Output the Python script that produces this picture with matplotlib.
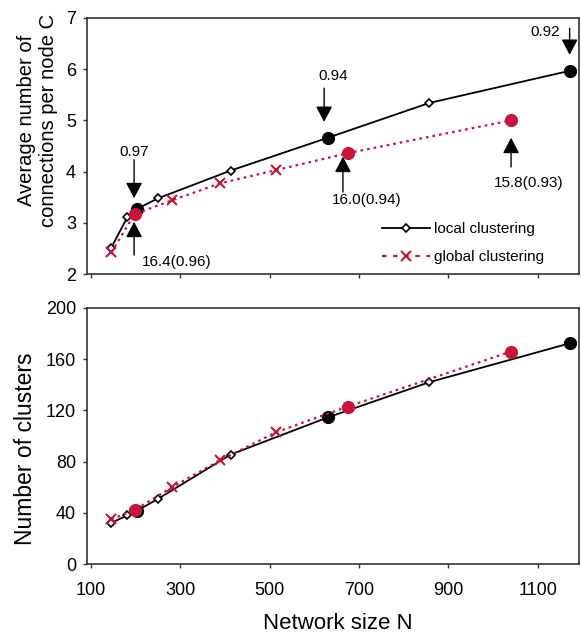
"""
clustering vs network size: connections per node (top) and number of clusters (bottom)
"""
import matplotlib
matplotlib.use("Agg")
import matplotlib.pyplot as plt
from matplotlib.lines import Line2D

plt.rcParams["font.family"] = "sans-serif"
plt.rcParams["font.sans-serif"] = ["Liberation Sans", "DejaVu Sans"]


################## data

# local clustering
n_local = [145, 182, 203, 251, 413, 630, 857, 1172]
c_local = [2.50, 3.11, 3.27, 3.48, 4.02, 4.66, 5.34, 5.97]
k_local = [32, 38, 41.5, 51, 85.5, 114.5, 142, 172.5]
big_local = [2, 5, 7]          # points drawn as filled circles

# global clustering
n_global = [146, 198, 282, 389, 515, 675, 1040]
c_global = [2.42, 3.17, 3.44, 3.77, 4.03, 4.36, 5.00]
k_global = [35, 42, 60, 81, 103, 123, 166]
big_global = [1, 5, 6]

x_ticks = [100, 300, 500, 700, 900, 1100]
c_ticks = [2, 3, 4, 5, 6, 7]
k_ticks = [0, 40, 80, 120, 160, 200]


RED = "#c8143a"
FRAME = "#333333"
dotted = (0, (1.2, 1.8))


fig = plt.figure(figsize=(5.81, 6.35), dpi=100)
ax1 = fig.add_axes([0.150, 0.5685, 0.8466, 0.4032])
ax2 = fig.add_axes([0.150, 0.1118, 0.8466, 0.4032])


def draw(ax, yl, yg):
    ax.plot(n_local, yl, color="black", lw=1.3, zorder=2)
    small = [i for i in range(len(n_local)) if i not in big_local]
    ax.plot([n_local[i] for i in small], [yl[i] for i in small], ls="none",
        marker="D", ms=4.5, mfc="white", mec="black", mew=1.2, zorder=3)
    ax.plot([n_local[i] for i in big_local], [yl[i] for i in big_local],
        ls="none", marker="o", ms=8.5, color="black", zorder=3)

    ax.plot(n_global, yg, color=RED, lw=1.6, ls=dotted, zorder=4)
    small = [i for i in range(len(n_global)) if i not in big_global]
    ax.plot([n_global[i] for i in small], [yg[i] for i in small], ls="none",
        marker="x", ms=6.5, mew=1.5, color=RED, zorder=5)
    ax.plot([n_global[i] for i in big_global], [yg[i] for i in big_global],
        ls="none", marker="o", ms=8.5, color=RED, zorder=5)

    ax.set_xlim(92, 1192)
    ax.set_xticks(x_ticks)
    for sp in ax.spines.values():
        sp.set_color(FRAME)
        sp.set_linewidth(1.2)
    ax.tick_params(direction="out", length=3, width=1, color=FRAME,
        labelsize=13)
    ax.tick_params(axis="y", pad=5)
    ax.tick_params(axis="x", pad=10)


draw(ax1, c_local, c_global)
draw(ax2, k_local, k_global)

ax1.set_ylim(2, 7)
ax1.set_yticks(c_ticks)
ax1.tick_params(axis="x", labelbottom=False)

ax2.set_ylim(0, 200)
ax2.set_yticks(k_ticks)


# axis labels
ax1.text(-0.1016, 0.60, "Average number of\nconnections per node C",
    transform=ax1.transAxes, rotation=90, ha="center", va="center",
    fontsize=14.5, linespacing=1.2)
ax2.text(-0.126, 0.451, "Number of clusters", transform=ax2.transAxes,
    rotation=90, ha="center", va="center", fontsize=16.5)
ax2.text(0.509, -0.232, "Network size N", transform=ax2.transAxes,
    ha="center", va="center", fontsize=16)


# arrows + labels in top panel
arrow = dict(arrowstyle="-|>,head_length=0.95,head_width=0.5",
    mutation_scale=10, color="black", lw=1, shrinkA=0, shrinkB=0)

arrows = [
    # x, tail, tip, label, label x, label y, ha
    (197, 4.23, 3.48, "0.97", 197, 4.38, "center"),
    (197, 2.37, 3.02, "16.4(0.96)", 215, 2.23, "left"),
    (622, 5.63, 4.97, "0.94", 642, 5.87, "center"),
    (664, 3.60, 4.29, "16.0(0.94)", 718, 3.45, "center"),
    (1040, 4.09, 4.66, "15.8(0.93)", 1080, 3.78, "center"),
    (1171, 6.80, 6.28, "0.92", 1116, 6.73, "center"),
]
for x, y0, y1, lab, tx, ty, ha in arrows:
    ax1.annotate("", xy=(x, y1), xytext=(x, y0), arrowprops=arrow, zorder=6)
    ax1.text(tx, ty, lab, ha=ha, va="center", fontsize=11)


# legend
handles = [
    Line2D([], [], color="black", lw=1.3, marker="D", ms=4.5, mfc="white",
        mec="black", mew=1.2),
    Line2D([], [], color=RED, lw=1.6, ls=(0, (2, 3)), marker="x", ms=6.5,
        mew=1.5),
]
ax1.legend(handles, ["local clustering", "global clustering"],
    loc="center left", bbox_to_anchor=(0.60, 0.12), frameon=False,
    fontsize=11, handlelength=3.1, handletextpad=0.3, labelspacing=0.9,
    borderpad=0, borderaxespad=0, numpoints=1)


fig.savefig("out.png", dpi=100)
plt.close()
